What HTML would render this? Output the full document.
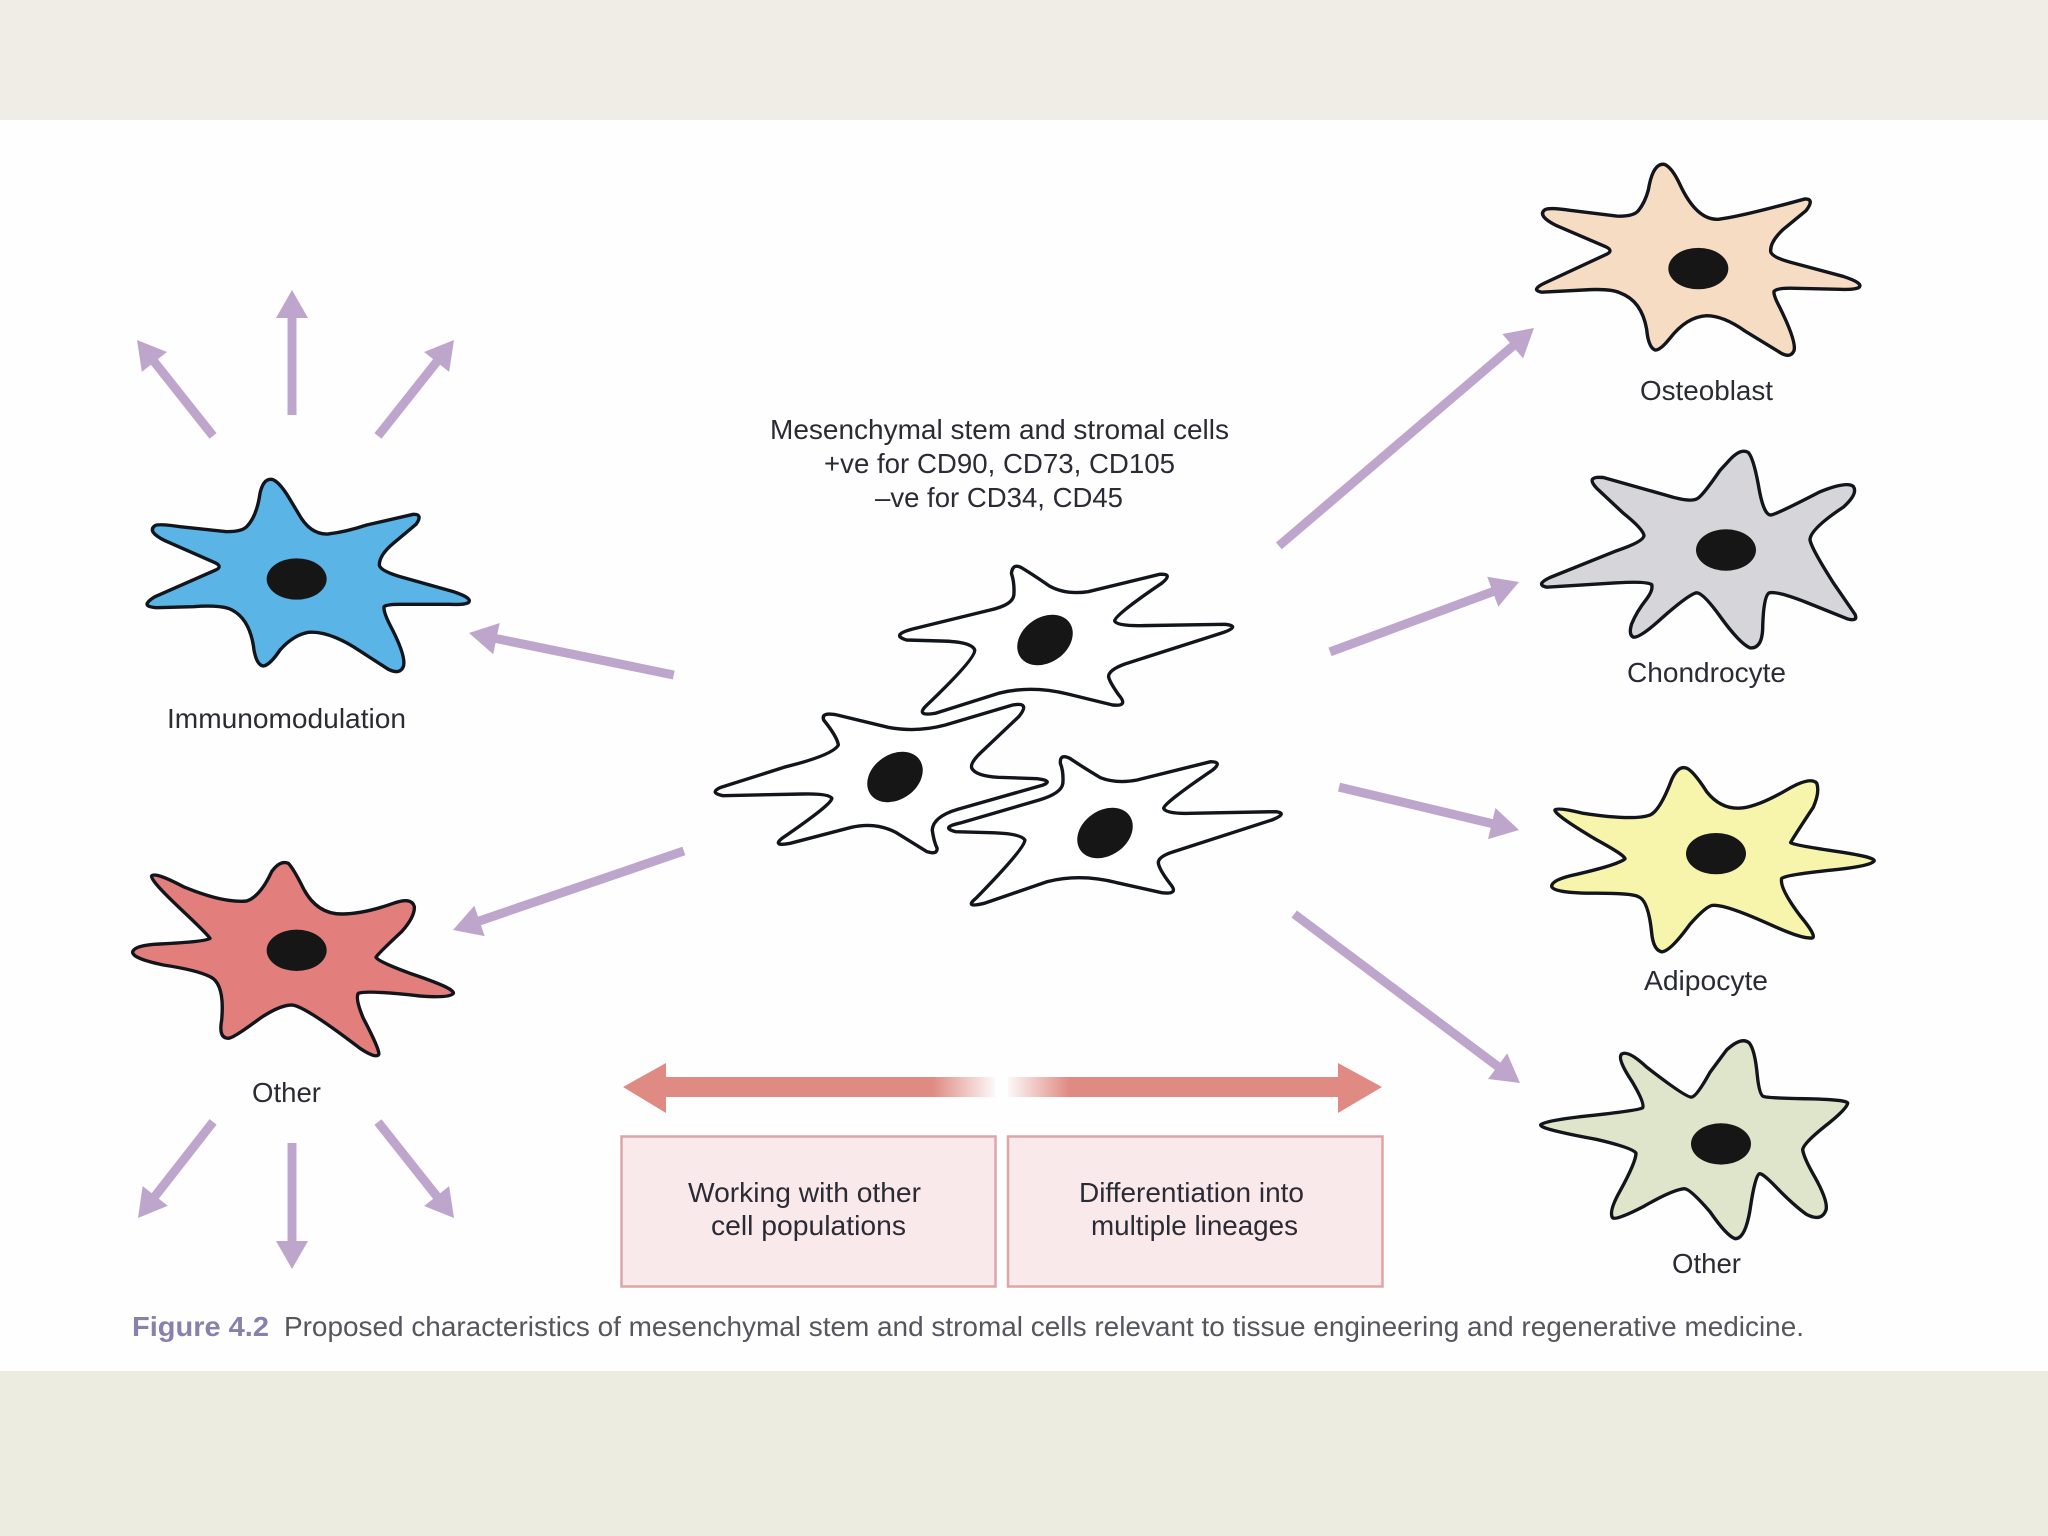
<!DOCTYPE html>
<html><head><meta charset="utf-8"><title>Figure 4.2</title>
<style>
html,body{margin:0;padding:0;background:#fff;width:2048px;height:1536px;overflow:hidden}
svg{display:block}
text{font-family:"Liberation Sans",Arial,sans-serif;font-size:28px;fill:#2b2b35}
.c{stroke:#12161c;stroke-width:3.4;stroke-linejoin:round;vector-effect:non-scaling-stroke}
.n{fill:#161616}
.a{fill:#bea5cc}
.b{fill:#f9e9ea;stroke:#dca6a8;stroke-width:2.5}
</style></head><body>
<svg xmlns="http://www.w3.org/2000/svg" width="2048" height="1536" viewBox="0 0 2048 1536">
<defs>
<linearGradient id="gl" x1="623" x2="995" y1="0" y2="0" gradientUnits="userSpaceOnUse"><stop offset="0" stop-color="#df8a82"/><stop offset=".83" stop-color="#df8a82"/><stop offset="1" stop-color="#df8a82" stop-opacity=".05"/></linearGradient>
<linearGradient id="gr" x1="1008" x2="1382" y1="0" y2="0" gradientUnits="userSpaceOnUse"><stop offset="0" stop-color="#df8a82" stop-opacity=".05"/><stop offset=".165" stop-color="#df8a82"/><stop offset="1" stop-color="#df8a82"/></linearGradient>
</defs>
<rect width="2048" height="1536" fill="#fefefe"/>
<rect width="2048" height="120" fill="#efede6"/>
<rect y="1371" width="2048" height="165" fill="#ecece0"/>

<!-- Immunomodulation cell -->
<g transform="translate(100 260) scale(.33333)">
<path class="c" fill="#5ab4e5" d="M480 700Q490 655 515 658Q535 662 565 710L595 760Q630 825 685 822Q740 815 800 795L940 763Q970 762 948 793L880 850Q838 885 838 915Q840 932 900 950L1060 995Q1120 1015 1105 1028Q1095 1035 1050 1033L900 1033Q860 1033 852 1040Q850 1055 870 1095Q920 1190 910 1220Q900 1245 865 1228L760 1160Q680 1112 625 1117Q580 1125 540 1170Q510 1215 490 1218Q470 1215 462 1170Q450 1070 385 1045Q350 1035 280 1040L170 1043Q115 1040 165 1010L345 931Q370 920 345 908L195 842Q140 815 165 797Q175 790 240 800L380 815Q425 815 440 800Q470 770 480 700Z"/>
<ellipse class="n" cx="590" cy="957" rx="90" ry="62"/>
</g>

<!-- Red cell -->
<g transform="translate(100 840) scale(.33333)">
<path class="c" fill="#e27f7c" d="M515 95Q540 60 565 70Q580 85 610 145Q650 222 725 222Q790 222 880 190Q935 170 943 200Q945 230 905 275Q830 345 828 352Q835 365 930 400Q1065 445 1060 460Q1050 475 960 468Q800 450 775 460Q765 475 790 535Q845 640 835 645Q825 655 780 625Q610 495 575 495Q540 495 480 535Q400 595 385 595Q355 595 365 540Q375 430 330 410Q290 390 190 375Q95 355 98 335Q105 315 180 312Q320 305 330 295Q320 280 240 205Q150 120 155 108Q165 95 250 140Q370 190 440 183Q480 170 515 95Z"/>
<ellipse class="n" cx="590" cy="331" rx="90" ry="62"/>
</g>

<!-- Osteoblast, Chondrocyte -->
<g transform="translate(1500 140) scale(.33333 .35714)">
<path class="c" fill="#f6dcc3" d="M445 140Q458 65 492 68Q515 75 540 125Q590 225 655 222Q720 215 915 165Q945 165 918 198L850 250Q810 285 812 312Q815 328 870 342L1030 382Q1095 402 1075 414Q1060 420 1020 418L870 415Q830 415 822 424Q820 435 840 470Q890 565 882 590Q870 615 835 592L735 535Q670 492 620 492Q560 495 510 555Q480 590 465 588Q445 580 440 530Q425 450 360 428Q330 415 250 420L125 426Q90 420 135 400L315 322Q345 310 315 298L170 240Q110 212 135 195Q150 188 210 197L350 213Q400 215 415 198Q435 175 445 140Z"/>
<ellipse class="n" cx="595" cy="360" rx="90" ry="58"/>
<path class="c" fill="#d6d6da" d="M680 905Q720 860 745 875Q760 890 775 965Q790 1050 812 1050Q830 1048 960 985Q1040 955 1060 970Q1075 990 1030 1028Q930 1090 930 1120Q935 1145 1000 1240L1065 1328Q1075 1350 1040 1340L920 1295Q830 1262 808 1268Q790 1275 788 1370Q785 1425 750 1422Q720 1410 665 1340Q610 1268 590 1268Q570 1270 490 1335Q420 1395 400 1392Q385 1385 395 1355Q410 1320 440 1285Q460 1260 455 1245Q440 1235 350 1240L140 1252Q105 1245 150 1225L350 1150Q430 1125 432 1108Q430 1090 370 1045L290 975Q255 940 310 945L500 995Q570 1015 590 1005Q605 1000 660 925Z"/>
<ellipse class="n" cx="678" cy="1148" rx="90" ry="58"/>
</g>

<!-- Adipocyte, Other -->
<g transform="translate(1500 740) scale(.33333 .34435)">
<path class="c" fill="#f7f4ac" d="M515 115Q535 72 560 82Q580 90 620 150Q665 205 730 197Q780 190 860 145Q930 105 950 125Q960 150 940 195Q875 290 872 298Q880 305 1000 322Q1130 340 1122 352Q1110 365 1020 375Q850 392 845 402Q838 430 900 510Q960 580 930 575Q900 575 820 540Q680 478 640 480Q620 480 570 535Q510 615 485 615Q460 610 455 560Q445 465 415 455Q395 445 290 445Q160 445 155 425Q155 405 230 390Q355 362 375 345Q375 335 290 290Q160 215 165 203Q175 195 250 213Q400 235 450 218Q480 205 515 115Z"/>
<ellipse class="n" cx="648" cy="330" rx="90" ry="60"/>
<path class="c" fill="#dfe5ca" d="M680 900Q725 860 748 880Q765 900 772 975Q778 1030 790 1035Q800 1040 930 1042Q1045 1045 1043 1055Q1040 1070 990 1110Q910 1170 908 1190Q912 1215 945 1270Q985 1340 978 1365Q965 1400 920 1378Q880 1350 830 1300Q785 1255 778 1260Q765 1265 750 1365Q735 1450 705 1448Q680 1440 630 1370Q570 1303 553 1303Q520 1305 430 1355Q350 1395 338 1388Q325 1370 360 1310Q408 1225 408 1200Q400 1185 290 1160Q120 1130 122 1118Q130 1105 280 1090Q420 1075 428 1068Q435 1055 395 990Q350 925 365 912Q385 900 440 950Q560 1040 575 1037Q590 1035 630 965Z"/>
<ellipse class="n" cx="663" cy="1173" rx="90" ry="60"/>
</g>

<!-- Central cells -->
<g transform="translate(680 540) scale(.40816 .33333)" fill="#fff">
<path class="c" d="M812 100Q815 70 835 82Q860 100 905 138Q945 165 1000 155L1175 103Q1210 100 1180 130Q1065 225 1065 243Q1070 258 1130 257L1335 253Q1375 258 1330 278L1090 372Q1050 390 1050 410Q1052 425 1075 465Q1100 500 1060 495L950 462Q860 435 780 460L625 520Q575 530 605 495Q725 355 722 330Q715 305 640 303L555 300Q515 285 570 267L760 210Q815 195 818 165Q820 130 812 100Z"/>
<path class="c" d="M352 540Q345 515 385 525L510 562Q580 578 650 555L815 495Q860 485 830 530L735 640Q710 670 715 685Q725 708 780 712L875 716Q915 722 890 735L680 808Q620 830 618 870Q622 905 630 925Q630 945 605 935L530 878Q480 845 420 862L270 910Q225 920 250 895Q375 790 372 775Q365 760 300 762L105 767Q70 758 100 742L260 680Q375 645 388 615Q385 590 352 540Z"/>
<path class="c" d="M932 670Q930 640 955 655Q985 680 1030 713Q1070 732 1120 720L1300 665Q1330 665 1305 690Q1185 790 1185 805Q1190 822 1250 820L1460 815Q1490 820 1450 840L1210 935Q1170 950 1172 970Q1175 990 1200 1030Q1225 1065 1180 1058L1070 1028Q980 1000 900 1025L745 1090Q695 1105 725 1075Q845 925 845 900Q835 880 760 878L675 875Q635 862 690 848L880 780Q935 760 938 730Q940 695 932 670Z"/>
</g>
<ellipse class="n" cx="1045" cy="640" rx="30" ry="22.5" transform="rotate(-35 1045 640)"/>
<ellipse class="n" cx="895" cy="777" rx="30" ry="22.5" transform="rotate(-35 895 777)"/>
<ellipse class="n" cx="1105" cy="833" rx="30" ry="22.5" transform="rotate(-35 1105 833)"/>

<!-- Purple arrows -->
<g class="a">
<path transform="translate(137 340) rotate(-128.4)" d="M0 0L-28-16V-4.5H-122.4V4.5H-28V16Z"/>
<path transform="translate(292 290) rotate(-90)" d="M0 0L-28-16V-4.5H-125V4.5H-28V16Z"/>
<path transform="translate(454 340) rotate(-51.6)" d="M0 0L-28-16V-4.5H-122.4V4.5H-28V16Z"/>
<path transform="translate(469 633) rotate(-168.4)" d="M0 0L-28-16V-4.5H-209V4.5H-28V16Z"/>
<path transform="translate(453 930) rotate(161.1)" d="M0 0L-28-16V-4.5H-244V4.5H-28V16Z"/>
<path transform="translate(138 1218) rotate(128)" d="M0 0L-28-16V-4.5H-122V4.5H-28V16Z"/>
<path transform="translate(292 1269) rotate(90)" d="M0 0L-28-16V-4.5H-126V4.5H-28V16Z"/>
<path transform="translate(454 1218) rotate(51.6)" d="M0 0L-28-16V-4.5H-122.4V4.5H-28V16Z"/>
<path transform="translate(1534 328) rotate(-40.5)" d="M0 0L-28-16V-4.5H-335.5V4.5H-28V16Z"/>
<path transform="translate(1519 582) rotate(-20.3)" d="M0 0L-28-16V-4.5H-201.5V4.5H-28V16Z"/>
<path transform="translate(1519 830) rotate(13.4)" d="M0 0L-28-16V-4.5H-185V4.5H-28V16Z"/>
<path transform="translate(1520 1083) rotate(36.8)" d="M0 0L-28-16V-4.5H-282V4.5H-28V16Z"/>
</g>

<!-- Double arrow -->
<path fill="url(#gl)" d="M623 1087L666 1063V1077H995V1097H666V1113Z"/>
<path fill="url(#gr)" d="M1382 1087L1338 1063V1077H1008V1097H1338V1113Z"/>

<!-- Boxes -->
<rect class="b" x="621.5" y="1136.5" width="374" height="150"/>
<rect class="b" x="1008" y="1136.5" width="374.5" height="150"/>

<!-- Text -->
<text x="770" y="439" textLength="459" lengthAdjust="spacingAndGlyphs">Mesenchymal stem and stromal cells</text>
<text x="824" y="473" textLength="351" lengthAdjust="spacingAndGlyphs">+ve for CD90, CD73, CD105</text>
<text x="875" y="507" textLength="248" lengthAdjust="spacingAndGlyphs">–ve for CD34, CD45</text>
<text x="167" y="728" textLength="239" lengthAdjust="spacingAndGlyphs">Immunomodulation</text>
<text x="252" y="1102" textLength="69" lengthAdjust="spacingAndGlyphs">Other</text>
<text x="1640" y="400" textLength="133" lengthAdjust="spacingAndGlyphs">Osteoblast</text>
<text x="1627" y="682" textLength="159" lengthAdjust="spacingAndGlyphs">Chondrocyte</text>
<text x="1644" y="990" textLength="124" lengthAdjust="spacingAndGlyphs">Adipocyte</text>
<text x="1672" y="1273" textLength="69" lengthAdjust="spacingAndGlyphs">Other</text>
<text x="688" y="1202" textLength="233" lengthAdjust="spacingAndGlyphs">Working with other</text>
<text x="711" y="1235" textLength="195" lengthAdjust="spacingAndGlyphs">cell populations</text>
<text x="1079" y="1202" textLength="225" lengthAdjust="spacingAndGlyphs">Differentiation into</text>
<text x="1091" y="1235" textLength="207" lengthAdjust="spacingAndGlyphs">multiple lineages</text>
<text x="132" y="1336" textLength="137" lengthAdjust="spacingAndGlyphs" style="font-weight:bold;fill:#8a80ad">Figure 4.2</text>
<text x="284" y="1336" textLength="1520" lengthAdjust="spacingAndGlyphs" style="fill:#56565f">Proposed characteristics of mesenchymal stem and stromal cells relevant to tissue engineering and regenerative medicine.</text>
</svg>
</body></html>
